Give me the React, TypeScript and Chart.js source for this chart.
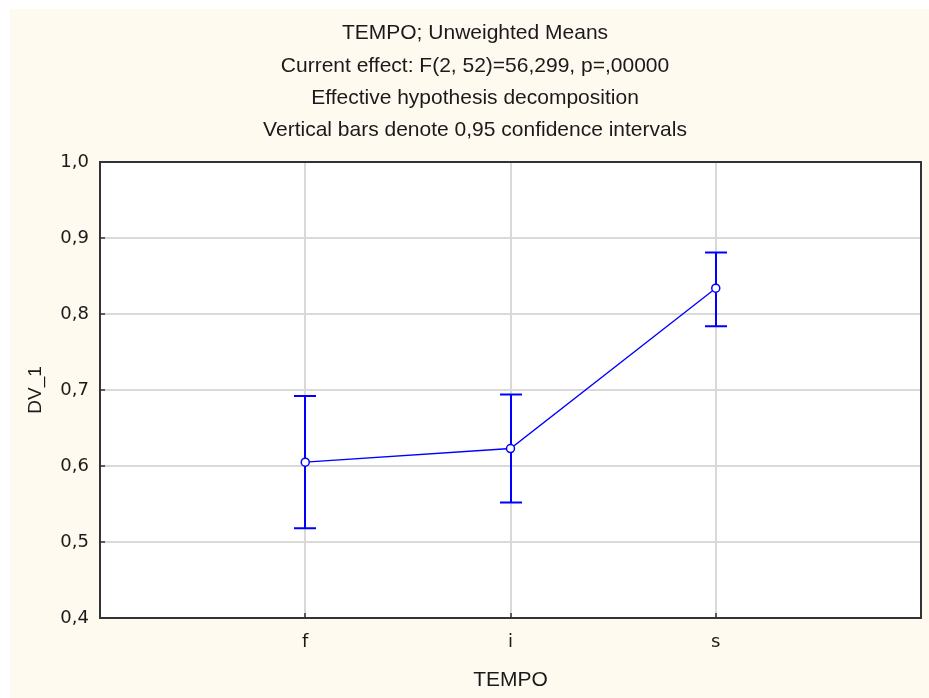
import React, { useEffect, useRef } from "react";
import { Chart, registerables } from "chart.js";

Chart.register(...registerables);

const titleLines = [
  "TEMPO; Unweighted Means",
  "Current effect: F(2, 52)=56,299, p=,00000",
  "Effective hypothesis decomposition",
  "Vertical bars denote 0,95 confidence intervals",
];
const categories = ["f", "i", "s"];
const means = [0.605, 0.623, 0.834];
const lowerCI = [0.518, 0.552, 0.784];
const upperCI = [0.692, 0.694, 0.881];
const xTitle = "TEMPO";
const yTitle = "DV_1";

const BLUE = "#0000ff";
const CREAM = "#fffaf0";
const FONT = "'Liberation Sans', Arial, sans-serif";
const TICKFONT = "'DejaVu Sans', sans-serif";

const W = 919;
const H = 689;

export default function App() {
  const ref = useRef<HTMLCanvasElement | null>(null);

  useEffect(() => {
    const canvas = ref.current;
    if (!canvas) return;

    const bgPlugin = {
      id: "bg",
      beforeDraw(chart: any) {
        const { ctx, chartArea } = chart;
        ctx.save();
        ctx.fillStyle = CREAM;
        ctx.fillRect(0, 0, chart.width, chart.height);
        ctx.fillStyle = "#ffffff";
        ctx.fillRect(chartArea.left, chartArea.top, chartArea.right - chartArea.left, chartArea.bottom - chartArea.top);
        ctx.fillStyle = "#1a1a1a";
        ctx.font = `21px ${FONT}`;
        ctx.textAlign = "center";
        ctx.textBaseline = "middle";
        const ys = [24, 57, 89, 121];
        titleLines.forEach((t, i) => ctx.fillText(t, 465, ys[i]));
        ctx.restore();
      },
      beforeDatasetsDraw(chart: any) {
        const { ctx, chartArea } = chart;
        const xs = chart.scales.x;
        const ysc = chart.scales.y;
        ctx.save();
        ctx.strokeStyle = "#333333";
        ctx.lineWidth = 2;
        ctx.strokeRect(chartArea.left, chartArea.top, chartArea.right - chartArea.left, chartArea.bottom - chartArea.top);
        // small inner tick marks
        ctx.beginPath();
        [0.5, 0.6, 0.7, 0.8, 0.9].forEach((v) => {
          const py = Math.round(ysc.getPixelForValue(v));
          ctx.moveTo(chartArea.left, py);
          ctx.lineTo(chartArea.left + 5, py);
        });
        categories.forEach((_, i) => {
          const px = Math.round(xs.getPixelForValue(i + 1));
          ctx.moveTo(px, chartArea.bottom);
          ctx.lineTo(px, chartArea.bottom - 5);
        });
        ctx.lineWidth = 1.5;
        ctx.stroke();
        // error bars
        ctx.strokeStyle = BLUE;
        ctx.lineWidth = 2;
        categories.forEach((_, i) => {
          const px = Math.round(xs.getPixelForValue(i + 1));
          const pl = ysc.getPixelForValue(lowerCI[i]);
          const pu = ysc.getPixelForValue(upperCI[i]);
          ctx.beginPath();
          ctx.moveTo(px, pl);
          ctx.lineTo(px, pu);
          ctx.moveTo(px - 11, pl);
          ctx.lineTo(px + 11, pl);
          ctx.moveTo(px - 11, pu);
          ctx.lineTo(px + 11, pu);
          ctx.stroke();
        });
        ctx.restore();
      },
    };

    const chart = new Chart(canvas, {
      type: "line",
      data: {
        datasets: [
          {
            data: means.map((m, i) => ({ x: i + 1, y: m })),
            borderColor: BLUE,
            borderWidth: 1.3,
            pointRadius: 4,
            pointHoverRadius: 4,
            pointBackgroundColor: "#ffffff",
            pointBorderColor: BLUE,
            pointBorderWidth: 1.5,
            fill: false,
            tension: 0,
          },
        ],
      },
      options: {
        responsive: false,
        animation: false,
        devicePixelRatio: 1,
        layout: { padding: { top: 153, right: 8, left: 0, bottom: 0 } },
        plugins: {
          legend: { display: false },
          tooltip: { enabled: false },
          title: { display: false },
        },
        scales: {
          x: {
            type: "linear",
            min: 0,
            max: 4,
            afterFit(scale: any) {
              scale.height = H - 609;
              scale.paddingLeft = 0;
              scale.paddingRight = 0;
            },
            afterBuildTicks(scale: any) {
              scale.ticks = [0, 1, 2, 3, 4].map((v) => ({ value: v }));
            },
            ticks: {
              stepSize: 1,
              padding: 14,
              color: "#1a1a1a",
              font: { family: TICKFONT, size: 18 },
              callback: (v: any) => (v >= 1 && v <= 3 ? categories[v - 1] : ""),
              maxRotation: 0,
              autoSkip: false,
            },
            grid: { color: "#d9d9d9", lineWidth: 2, drawTicks: false },
            border: { display: false },
            title: {
              display: true,
              text: xTitle,
              color: "#1a1a1a",
              font: { family: FONT, size: 21 },
              padding: { top: 0, bottom: 5 },
            },
          },
          y: {
            min: 0.4,
            max: 1.0,
            afterFit(scale: any) {
              scale.width = 90;
            },
            ticks: {
              stepSize: 0.1,
              padding: 11,
              color: "#1a1a1a",
              font: { family: TICKFONT, size: 18 },
              callback: (v: any) => Number(v).toFixed(1).replace(".", ","),
            },
            grid: { color: "#d9d9d9", lineWidth: 2, drawTicks: false },
            border: { display: false },
            title: {
              display: true,
              text: yTitle,
              color: "#1a1a1a",
              font: { family: FONT, size: 19 },
              padding: { top: 14, bottom: 0 },
            },
          },
        },
      },
      plugins: [bgPlugin],
    });

    return () => chart.destroy();
  }, []);

  return (
    <div style={{ position: "fixed", left: 0, top: 0, width: 929, height: 698, background: "#ffffff" }}>
      <canvas
        ref={ref}
        width={W}
        height={H}
        style={{ position: "absolute", left: 10, top: 9, width: W, height: H }}
      />
    </div>
  );
}
